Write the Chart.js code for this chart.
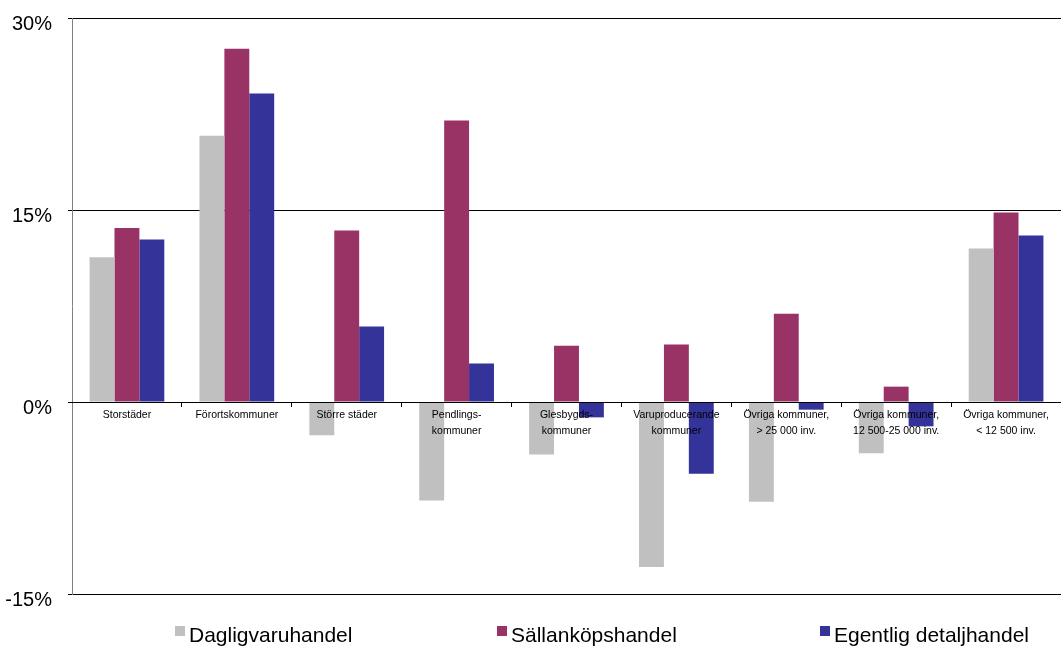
<!DOCTYPE html>
<html>
<head>
<meta charset="utf-8">
<script src="https://cdn.jsdelivr.net/npm/chart.js@4"></script>
<style>
  html, body { margin: 0; padding: 0; background: #fff; }
  #wrap { width: 1061px; height: 648px; }
</style>
</head>
<body>
<div id="wrap"><canvas id="myChart"></canvas></div>
<script>
// kategorier (kommungrupper)
var categories = [
    ['Storstäder'],
    ['Förortskommuner'],
    ['Större städer'],
    ['Pendlings-', 'kommuner'],
    ['Glesbygds-', 'kommuner'],
    ['Varuproducerande', 'kommuner'],
    ['Övriga kommuner,', '> 25 000 inv.'],
    ['Övriga kommuner,', '12 500-25 000 inv.'],
    ['Övriga kommuner,', '< 12 500 inv.']
];

// förändring i procent
var dagligvaruhandel = [11.3, 20.8, -2.6, -7.7, -4.1, -12.9, -7.8, -4.0, 12.0];
var sallankopshandel = [13.6, 27.6, 13.4, 22.0, 4.4, 4.5, 6.9, 1.2, 14.8];
var egentligDetaljhandel = [12.7, 24.1, 5.9, 3.0, -1.2, -5.6, -0.6, -1.9, 13.0];

var yTicks = [-15, 0, 15, 30];

var FONT = 'Liberation Sans, Arial, sans-serif';

// legend utspridd som i originalet (inbyggda legenden radbryter)
var spreadLegend = {
    id: 'spreadLegend',
    afterDraw: function (chart) {
        var c = chart.ctx;
        var starts = [175, 497, 820];   // x för rutan
        c.save();
        c.font = '21px ' + FONT;
        c.textBaseline = 'middle';
        c.textAlign = 'left';
        chart.data.datasets.forEach(function (ds, i) {
            c.fillStyle = ds.backgroundColor;
            c.fillRect(starts[i], 626, 10, 10);
            c.fillStyle = '#000';
            c.fillText(ds.label, starts[i] + 14, 636);
        });
        c.restore();
    }
};

var ctx = document.getElementById("myChart").getContext('2d');

var myBarChart = new Chart(ctx, {
    type: 'bar',
    data: {
        labels: categories,
        datasets: [
            {
                label: 'Dagligvaruhandel',
                data: dagligvaruhandel,
                backgroundColor: "#c0c0c0"
            },
            {
                label: 'Sällanköpshandel',
                data: sallankopshandel,
                backgroundColor: "#993366"
            },
            {
                label: 'Egentlig detaljhandel',
                data: egentligDetaljhandel,
                backgroundColor: "#333399"
            }
        ]
    },
    plugins: [spreadLegend],
    options: {
        responsive: true,
        maintainAspectRatio: false,
        animation: false,
        layout: {
            padding: { top: 18, right: 0, bottom: 54, left: 0 }
        },
        datasets: {
            bar: {
                categoryPercentage: 0.68,
                barPercentage: 1.0
            }
        },
        plugins: {
            tooltip: { enabled: false },
            legend: { display: false }
        },
        scales: {
            x: {
                position: { y: 0 },
                offset: true,
                grid: {
                    display: true,
                    offset: true,
                    drawOnChartArea: false,
                    drawTicks: true,
                    tickLength: 4,
                    color: '#000'
                },
                border: { display: true, color: '#000', width: 1, z: 1 },
                ticks: {
                    z: 1,
                    autoSkip: false,
                    maxRotation: 0,
                    padding: 1,
                    color: '#000',
                    font: { family: FONT, size: 10.5, lineHeight: 1.5 }
                }
            },
            y: {
                min: -15,
                max: 30,
                afterFit: function (scale) {
                    scale.width = 72;
                    scale.paddingTop = 0;
                    scale.paddingBottom = 0;
                },
                afterBuildTicks: function (scale) {
                    scale.ticks = yTicks.map(function (v) { return { value: v }; });
                },
                grid: {
                    color: '#000',
                    drawTicks: true,
                    tickLength: 4
                },
                border: { display: true, color: '#808080', width: 1 },
                ticks: {
                    padding: 16,
                    labelOffset: 6,
                    color: '#000',
                    font: { family: FONT, size: 20 },
                    callback: function (v) { return v + '%'; }
                }
            }
        }
    }
});
</script>
</body>
</html>
